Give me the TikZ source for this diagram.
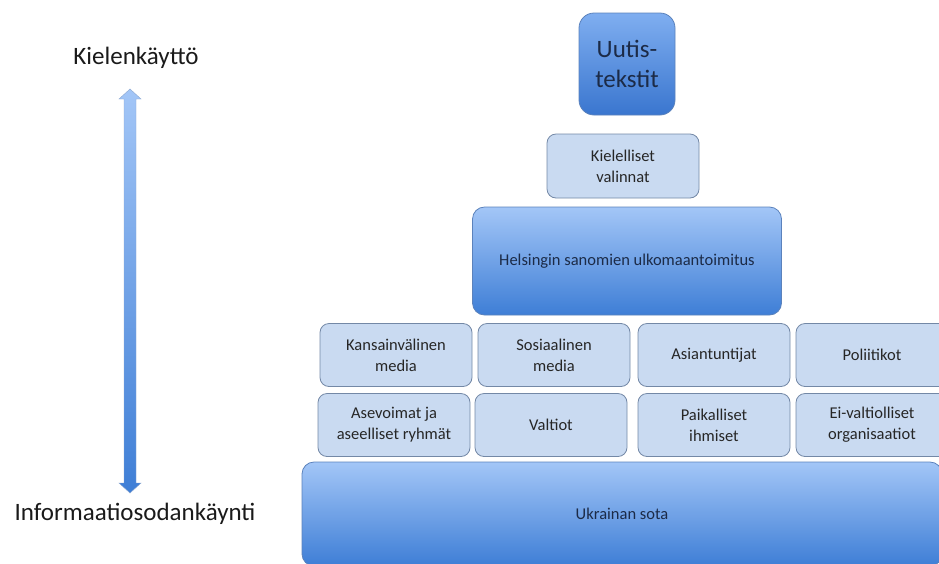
\documentclass[tikz,border=0pt]{standalone}
\usepackage{fontspec}
\setmainfont{Carlito}
\usetikzlibrary{calc}
\definecolor{boxfill}{HTML}{C9DAF1}
\definecolor{boxline}{HTML}{7388A6}
\definecolor{boxtext}{HTML}{262626}
\definecolor{gtop}{HTML}{A3C6F7}
\definecolor{gbot}{HTML}{3E7ED6}
\definecolor{gline}{HTML}{5B82BC}
\definecolor{gtext}{HTML}{1C2B47}
\definecolor{utop}{HTML}{7FAEF0}
\definecolor{ubot}{HTML}{3A76CF}
\definecolor{sidetext}{HTML}{1A1A1A}

\begin{document}
\begin{tikzpicture}[x=1pt,y=-1pt,
  lbox/.style={draw=boxline,fill=boxfill,line width=.8pt,rounded corners=9pt,
    minimum width=152pt,minimum height=63pt,inner sep=0pt,align=center,
    text=boxtext,font=\fontsize{16.5}{21}\selectfont},
  gbox/.style={draw=gline,top color=gtop,bottom color=gbot,line width=.8pt,
    rounded corners=12pt,inner sep=0pt,align=center,
    text=gtext,font=\fontsize{16.5}{21}\selectfont},
  side/.style={text=sidetext,font=\fontsize{25}{30}\selectfont}]

\clip (0,0) rectangle (939,563);
\useasboundingbox (0,0) rectangle (939,563);

% axis on the left
\node[side] (kieli) at (136,58) {Kielenkäyttö};
\node[side] (info) at (135,514) {Informaatiosodankäynti};
\coordinate (up) at (130,89);
\coordinate (down) at (130,493);
\shade[top color=gtop,bottom color=gbot,draw=gline!70,line width=.4pt]
  (up) -- ++(11,10) -- ++(-5,0) -- ($(down)+(6,-10)$) -- ++(5,0) -- (down)
  -- ++(-11,-10) -- ++(5,0) -- ($(up)+(-6,10)$) -- ++(-5,0) -- cycle;

% pyramid
\node[gbox,top color=utop,bottom color=ubot,rounded corners=15pt,
  minimum width=96pt,minimum height=102pt,font=\fontsize{25}{30}\selectfont]
  (uutis) at (627,64) {Uutis-\\tekstit};
\node[lbox,minimum height=64pt] (valinnat) at (623,166) {Kielelliset\\valinnat};
\node[gbox,minimum width=309pt,minimum height=108pt] (hs) at (627,261)
  {Helsingin sanomien ulkomaantoimitus};

\node[lbox] (kv) at (396,355) {Kansainvälinen\\media};
\node[lbox] (some) at (554,355) {Sosiaalinen\\media};
\node[lbox] (asian) at (714,355) {Asiantuntijat};
\node[lbox] (poli) at (872,355) {Poliitikot};

\node[lbox] (ase) at (394,425) {Asevoimat ja\\aseelliset ryhmät};
\node[lbox] (valtiot) at (551,425) {Valtiot};
\node[lbox] (paik) at (714,425) {Paikalliset\\ihmiset};
\node[lbox] (ngo) at (872,425) {Ei-valtiolliset\\organisaatiot};

\node[gbox,minimum width=640pt,minimum height=104pt] (sota) at (622,514)
  {Ukrainan sota};

\end{tikzpicture}
\end{document}
